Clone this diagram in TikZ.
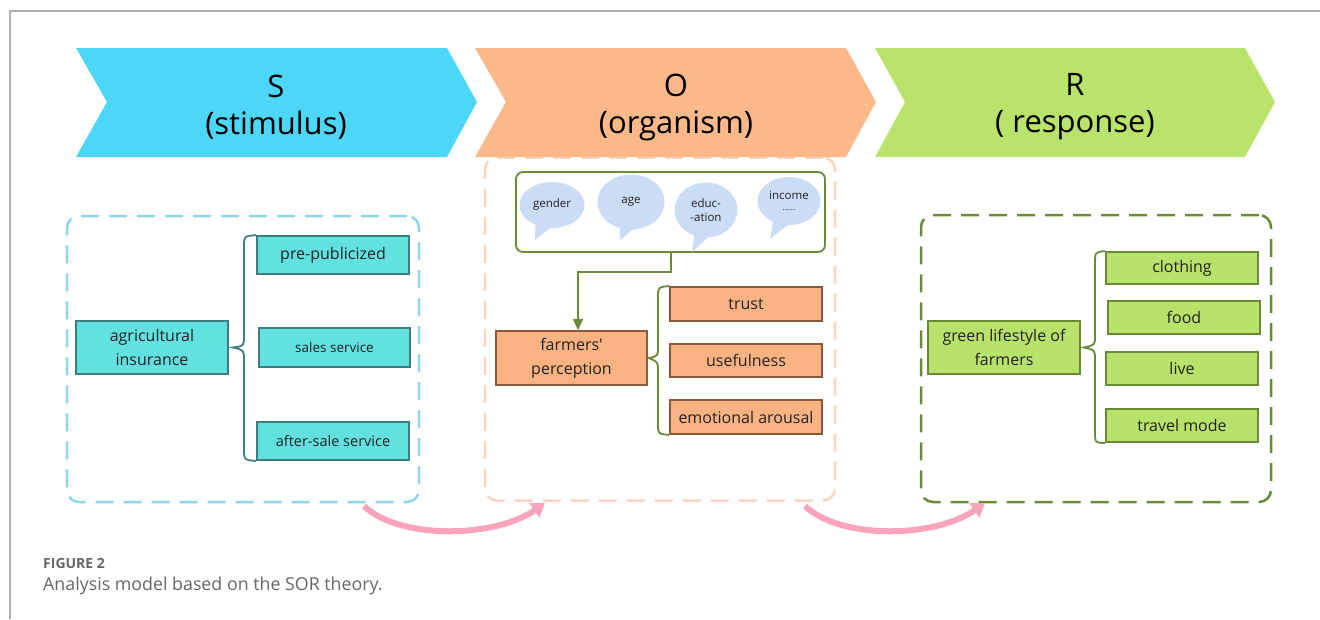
\documentclass[tikz,border=0pt]{standalone}
\usepackage{fontspec}
\setmainfont{Open Sans}
\usetikzlibrary{shapes.geometric,arrows.meta,calc}
\definecolor{cyanS}{HTML}{4CD6F7}
\definecolor{peachO}{HTML}{FBB98A}
\definecolor{greenR}{HTML}{BAE36C}
\definecolor{ldashc}{HTML}{8ED5EE}
\definecolor{tealF}{HTML}{62E1E1}
\definecolor{tealB}{HTML}{3D7F80}
\definecolor{orgF}{HTML}{F9B382}
\definecolor{orgB}{HTML}{8A5A3B}
\definecolor{grnF}{HTML}{B8E26A}
\definecolor{grnB}{HTML}{6A8A36}
\definecolor{mdashc}{HTML}{F8D5C2}
\definecolor{bubF}{HTML}{CADCF6}
\definecolor{pinkA}{HTML}{F8A5BB}
\definecolor{frameG}{HTML}{B0B0B0}
\definecolor{txt}{HTML}{222222}
\definecolor{capG}{HTML}{666666}
\begin{document}
\begin{tikzpicture}[x=1pt,y=-1pt,
  ttxt/.style={font=\fontsize{31}{37}\selectfont, align=center, text=black},
  basebox/.style={line width=1.8pt, inner sep=0pt, align=center, text=txt,
    font=\fontsize{16}{24}\selectfont},
  tbox/.style={basebox, draw=tealB, fill=tealF},
  obox/.style={basebox, draw=orgB, fill=orgF},
  gbox/.style={basebox, draw=grnB, fill=grnF},
  dashbox/.style={line width=2.5pt, rounded corners=12pt, dash pattern=on 18pt off 10pt, inner sep=0pt},
  bubble/.style={ellipse, fill=bubF, inner sep=0pt, align=center, text=txt,
    font=\fontsize{11.5}{14}\selectfont},
  bracel/.style={draw=tealB, line width=1.8pt},
  braceg/.style={draw=grnB, line width=1.8pt},
  conn/.style={draw=grnB, line width=1.3pt, -{Triangle[width=10pt,length=11pt]}},
  pinkarr/.style={draw=pinkA, line width=6pt, -{Triangle[width=17pt,length=13pt]}}
]
\useasboundingbox (0,0) rectangle (1320,619);
% frame
\draw[frameG, line width=1.3pt] (10,619) -- (10,11) -- (1320,11);

% dashed group boxes
\node[dashbox, draw=ldashc, minimum width=352pt, minimum height=286pt] (ldash) at (243,359) {};
\node[dashbox, draw=mdashc, minimum width=350pt, minimum height=343pt] (mdash) at (660,329) {};
\node[dashbox, draw=grnB, minimum width=350pt, minimum height=287pt] (rdash) at (1096,358.5) {};

% chevrons
\fill[cyanS] (76,48) -- (447,48) -- (477,102) -- (447,157) -- (76,157) -- (107,102) -- cycle;
\fill[peachO] (475,48) -- (846,48) -- (876,102) -- (846,157) -- (475,157) -- (506,102) -- cycle;
\fill[greenR] (875,48) -- (1245,48) -- (1275,102) -- (1245,157) -- (875,157) -- (905,102) -- cycle;
\node[ttxt] (S) at (276,107) {S\\(stimulus)};
\node[ttxt] (O) at (676,107) {O\\(organism)};
\node[ttxt] (R) at (1075,107) {R\\( response)};

% left group
\node[tbox, minimum width=152pt, minimum height=53pt] (ai) at (152,347.5) {agricultural\\insurance};
\node[tbox, minimum width=152pt, minimum height=38pt] (pp) at (333,255) {pre-publicized};
\node[tbox, minimum width=151pt, minimum height=39pt, font=\fontsize{13.5}{16}\selectfont] (ss) at (334.5,347.5) {sales service};
\node[tbox, minimum width=152pt, minimum height=38pt, font=\fontsize{14.5}{16}\selectfont] (as) at (333,441) {after-sale service};
\coordinate (lt) at ([xshift=4pt]ai.east);
\draw[bracel] (pp.north west) .. controls (244,236) .. (244,248) -- (244,336)
  .. controls (244,346) .. (lt) .. controls (244,350) .. (244,360) -- (244,448)
  .. controls (244,460) .. (as.south west);

% middle group
\node[draw=grnB, line width=1.8pt, rounded corners=7pt, minimum width=309pt, minimum height=80pt, inner sep=0pt] (attr) at (670.5,212) {};
\node[bubble, minimum width=65pt, minimum height=46pt] (b1) at (552,205) {gender};
\fill[bubF] ($(b1.center)+(-16,8)$) -- (535,240) -- ($(b1.center)+(2,20)$) -- cycle;
\node[bubble, minimum width=67pt, minimum height=55pt] (b2) at (631,202) {age};
\fill[bubF] ($(b2.center)+(-12,12)$) -- (620,240) -- ($(b2.center)+(6,24)$) -- cycle;
\node[bubble, minimum width=63pt, minimum height=55pt] (b3) at (706,210) {educ-\\-ation};
\fill[bubF] ($(b3.center)+(-10,14)$) -- (692,252) -- ($(b3.center)+(8,22)$) -- cycle;
\node[bubble, minimum width=63pt, minimum height=48pt] (b4) at (789,201) {income\\[-3pt]{\fontsize{8}{8}\selectfont ......}};
\fill[bubF] ($(b4.center)+(-14,10)$) -- (770,239) -- ($(b4.center)+(4,20)$) -- cycle;

\node[obox, minimum width=151pt, minimum height=54pt] (fp) at (571.5,358) {farmers\textquotesingle\\perception};
\node[obox, minimum width=152pt, minimum height=34pt] (tr) at (746,304) {trust};
\node[obox, minimum width=152pt, minimum height=33pt] (us) at (746,360.5) {usefulness};
\node[obox, minimum width=152pt, minimum height=34pt] (ea) at (746,417) {emotional arousal};
\coordinate (c1) at (671,272);
\draw[conn] (attr.south -| c1) -- (c1) -| ([xshift=6.5pt]fp.north);
\coordinate (mt) at ([xshift=1pt]fp.east);
\draw[braceg] (tr.north west) .. controls (658,287) .. (658,298) -- (658,347)
  .. controls (658,356) .. (mt) .. controls (658,362) .. (658,371) -- (658,424)
  .. controls (658,434) .. (ea.south west);

% right group
\node[gbox, minimum width=152pt, minimum height=53pt] (gl) at (1004,347.5) {green lifestyle of\\farmers};
\node[gbox, minimum width=152pt, minimum height=32pt] (cl) at (1182,268) {clothing};
\node[gbox, minimum width=152pt, minimum height=33pt] (fo) at (1184,317.5) {food};
\node[gbox, minimum width=152pt, minimum height=33pt] (li) at (1182,368.5) {live};
\node[gbox, minimum width=152pt, minimum height=33pt] (tm) at (1182,425.5) {travel mode};
\coordinate (rt) at ([xshift=3pt]gl.east);
\draw[braceg] (cl.north west) .. controls (1095,252) .. (1095,264) -- (1095,336)
  .. controls (1095,345) .. (rt) .. controls (1095,350) .. (1095,359) -- (1095,431)
  .. controls (1095,443) .. (tm.south west);

% pink arrows
\coordinate (a1s) at (364,506);
\coordinate (a1e) at (545,503);
\coordinate (a2s) at (805,506);
\coordinate (a2e) at (985,503);
\draw[pinkarr] (a1s) .. controls (400,540) and (495,538) .. (a1e);
\draw[pinkarr] (a2s) .. controls (841,540) and (935,538) .. (a2e);

% caption
\node[anchor=west, inner sep=0pt, text=capG, font=\fontsize{14}{16}\selectfont\bfseries] (fig) at (43,563) {FIGURE 2};
\node[anchor=west, inner sep=0pt, text=capG, font=\fontsize{17.8}{20}\selectfont] (cap) at (43,586) {Analysis model based on the SOR theory.};
\end{tikzpicture}
\end{document}
